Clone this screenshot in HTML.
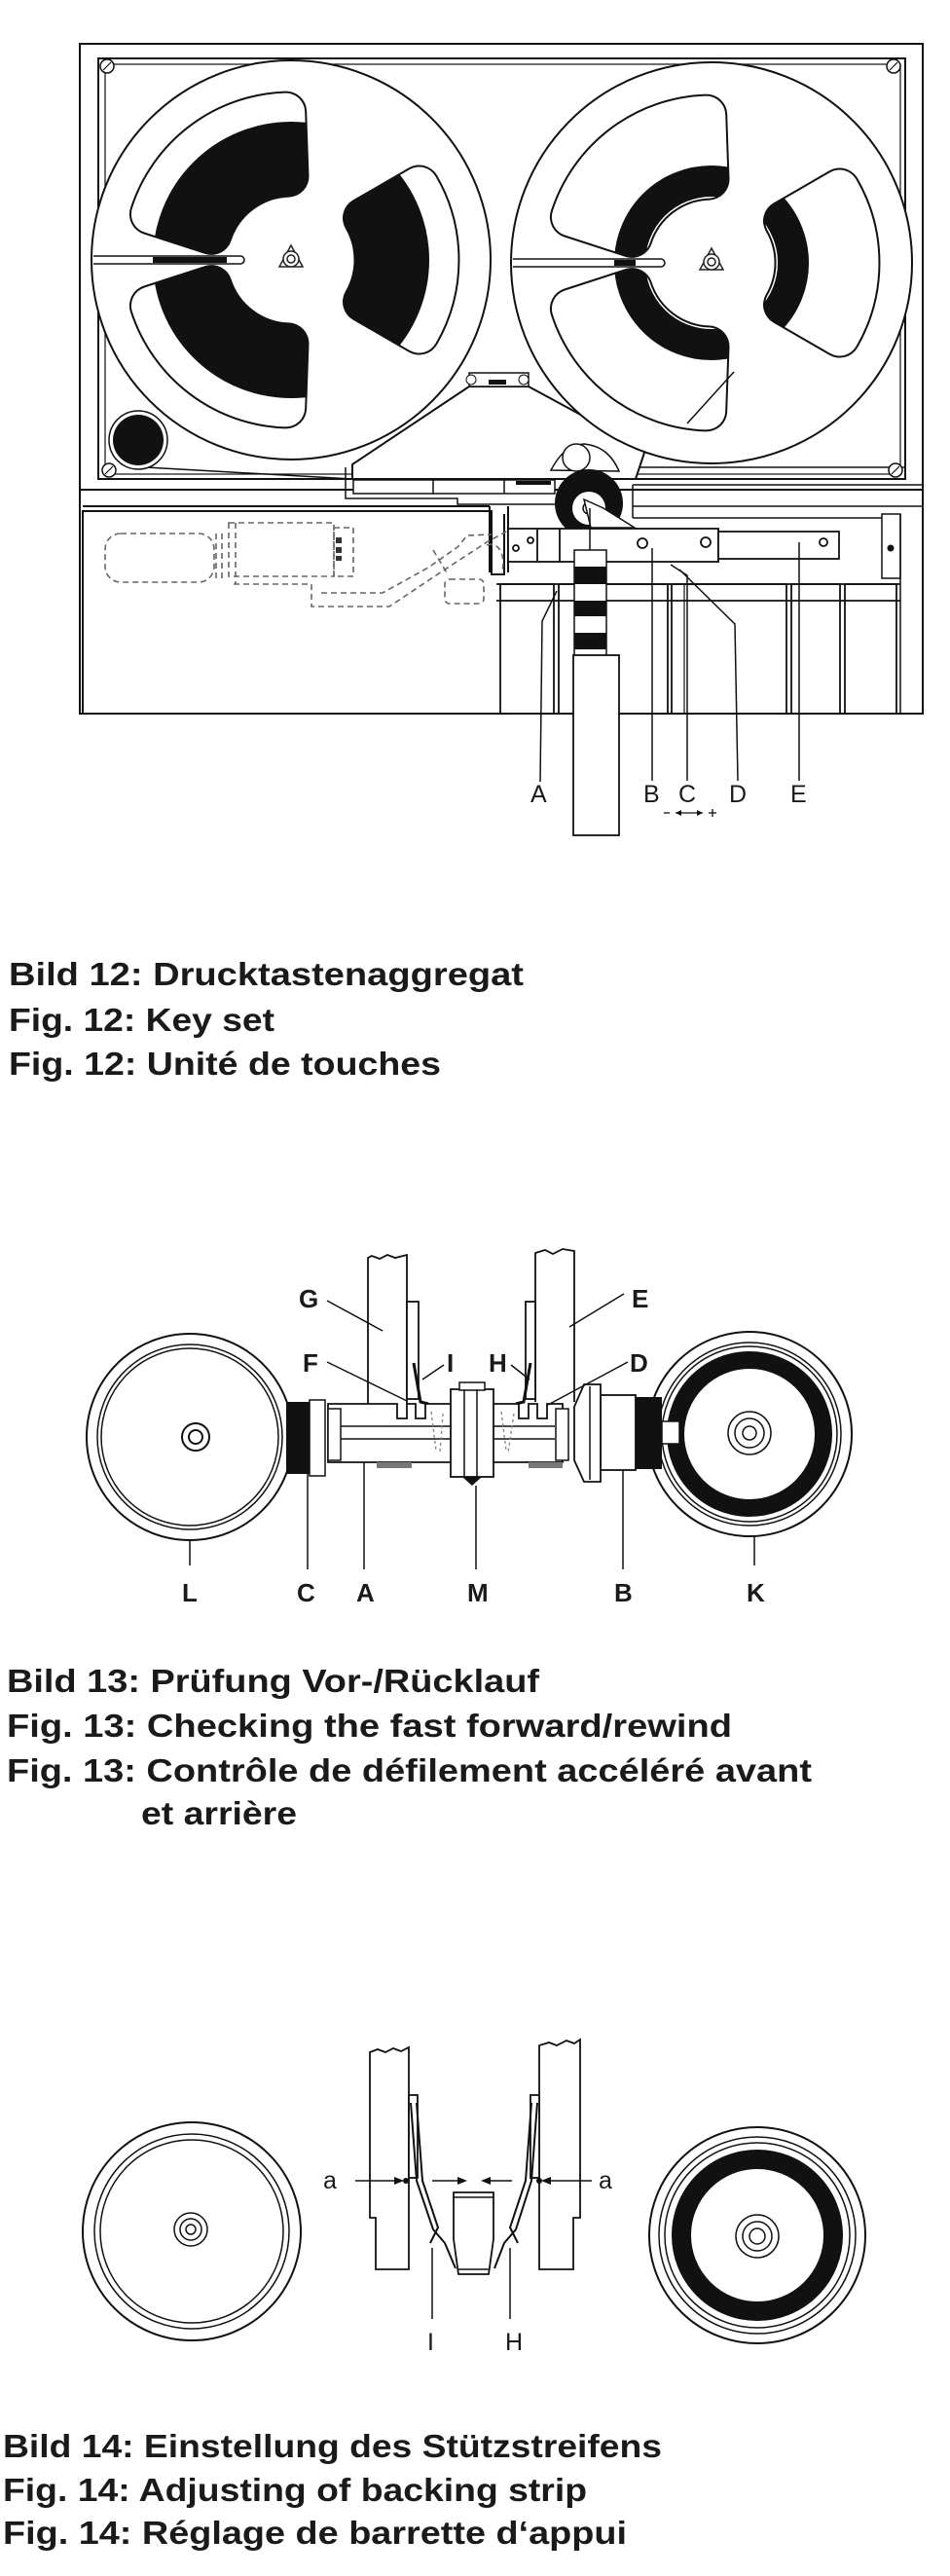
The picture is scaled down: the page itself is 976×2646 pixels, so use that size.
<!DOCTYPE html>
<html><head><meta charset="utf-8"><style>
html,body{margin:0;padding:0;background:#fff;}
svg{display:block;}
.cap{font-family:"Liberation Sans",Arial,sans-serif;font-weight:bold;font-size:33px;fill:#1a1a1a;}
.lb{font-family:"Liberation Sans",Arial,sans-serif;font-size:25px;fill:#1a1a1a;}
.lbb{font-family:"Liberation Sans",Arial,sans-serif;font-size:26px;font-weight:bold;fill:#1a1a1a;}
</style></head><body>
<svg width="976" height="2646" viewBox="0 0 976 2646" xmlns="http://www.w3.org/2000/svg">
<defs>
  <g id="core">
    <path d="M-5.3,-151.9 A152,152 0 0 0 -144.6,-47 L-81.8,-26.6 A86,86 0 0 1 -3,-85.9 Z"/>
    <path d="M131.6,76 A152,152 0 0 0 131.6,-76 L74.5,-43 A86,86 0 0 1 74.5,43 Z"/>
    <path d="M-144.6,47 A152,152 0 0 0 -5.3,151.9 L-3,85.9 A86,86 0 0 1 -81.8,26.6 Z"/>
  </g>
  <mask id="winmask" maskUnits="userSpaceOnUse" x="-220" y="-220" width="440" height="440">
    <rect x="-220" y="-220" width="440" height="440" fill="#000"/>
    <use href="#core" fill="#fff" stroke="#fff" stroke-width="40" stroke-linejoin="round"/>
  </mask>
  <g id="winout">
    <use href="#core" fill="#111" stroke="#111" stroke-width="43" stroke-linejoin="round"/>
    <use href="#core" fill="#fff" stroke="#fff" stroke-width="39" stroke-linejoin="round"/>
  </g>
  <g id="hub" fill="none" stroke="#222" stroke-width="1.5">
    <path d="M0,-14 L12,8 L-12,8 Z"/>
    <circle r="8" fill="#fff"/><circle r="4"/>
  </g>
</defs>
<rect width="976" height="2646" fill="#fff"/>

<!-- ================= FIG 12 ================= -->
<g stroke="#111" fill="none" stroke-width="2">
  <rect x="82" y="45" width="866" height="688"/>
  <rect x="101" y="60" width="829" height="432"/>
  <rect x="108" y="66" width="817" height="421" stroke-width="1.2"/>
  <line x1="82" y1="503" x2="948" y2="503"/>
  <path d="M85,733 L85,525 L505,525 L505,590 L518,590 L518,528"/>
  <line x1="85" y1="520" x2="503" y2="520"/>
  <path d="M503,520 L503,588 M522,520 L522,588"/>
  <line x1="650" y1="480" x2="930" y2="480" stroke-width="1.5"/>
  <line x1="650" y1="498" x2="948" y2="498" stroke-width="1.5"/>
  <line x1="650" y1="520" x2="948" y2="520" stroke-width="1.5"/>
  <line x1="650" y1="532" x2="906" y2="532" stroke-width="1.5"/>
  <line x1="650" y1="498" x2="650" y2="532" stroke-width="1.5"/>
  <rect x="906" y="528" width="19" height="66" stroke-width="1.5"/>
  <line x1="925" y1="528" x2="925" y2="733" stroke-width="1.5"/>
</g>
<circle cx="915" cy="563" r="3.5" fill="#111"/>
<g fill="#fff" stroke="#111" stroke-width="1.5">
  <circle cx="110" cy="68" r="7"/><circle cx="918" cy="68" r="7"/>
  <circle cx="112" cy="483" r="7"/><circle cx="920" cy="483" r="7"/>
</g>
<g stroke="#111" stroke-width="1.2">
  <line x1="106" y1="72" x2="114" y2="64"/><line x1="914" y1="72" x2="922" y2="64"/>
  <line x1="108" y1="487" x2="116" y2="479"/><line x1="916" y1="487" x2="924" y2="479"/>
</g>
<path d="M128,430 L150,480 L362,492" fill="none" stroke="#111" stroke-width="1.5"/>
<circle cx="142" cy="452" r="30" fill="#fff" stroke="#111" stroke-width="1.5"/>
<circle cx="142" cy="452" r="26" fill="#111"/>

<!-- bridge -->
<path d="M362,492 L362,477 L482,397 L543,397 L663,462 L653,492 Z" fill="#fff" stroke="#111" stroke-width="2"/>
<rect x="482" y="383" width="61" height="14" fill="#fff" stroke="#111" stroke-width="1.5"/>
<rect x="502" y="390" width="18" height="5" fill="#111"/>
<circle cx="484" cy="390" r="5" fill="#fff" stroke="#111"/><circle cx="538" cy="390" r="5" fill="#fff" stroke="#111"/>

<!-- reels -->
<g transform="translate(299,267)">
  <circle r="205" fill="#fff" stroke="#111" stroke-width="2"/>
  <use href="#winout"/>
  <g mask="url(#winmask)"><circle r="104" fill="none" stroke="#111" stroke-width="76"/></g>
  <path d="M-203,-4 L-52,-4 A4,4 0 0 1 -52,4 L-203,4" fill="#fff" stroke="#111" stroke-width="1.5"/>
  <rect x="-142" y="-3" width="76" height="6" fill="#111"/>
  <use href="#hub" transform="translate(0,-1)"/>
</g>
<g transform="translate(731,270)">
  <circle r="206" fill="#fff" stroke="#111" stroke-width="2"/>
  <use href="#winout"/>
  <g mask="url(#winmask)"><circle r="84" fill="none" stroke="#111" stroke-width="32"/></g>
  <path d="M-204,-4 L-52,-4 A4,4 0 0 1 -52,4 L-204,4" fill="#fff" stroke="#111" stroke-width="1.5"/>
  <rect x="-100" y="-3" width="22" height="6" fill="#111"/>
  <line x1="-25" y1="165" x2="23" y2="112" stroke="#111" stroke-width="1.5"/>
  <use href="#hub" transform="translate(0,-1)"/>
</g>

<g stroke="#111" fill="none" stroke-width="1.5">
  <path d="M355,480 L355,512 L470,512 L470,518 L570,518"/>
  <rect x="363" y="493" width="207" height="14" fill="#fff"/>
  <line x1="445" y1="493" x2="445" y2="507"/><line x1="518" y1="493" x2="518" y2="507"/>
</g>
<rect x="530" y="494" width="36" height="4" fill="#111"/>
<path d="M566,483 C572,472 580,458 600,456 C620,458 630,470 636,484 Z" fill="#fff" stroke="#111" stroke-width="1.5"/>
<circle cx="592" cy="470" r="14" fill="#fff" stroke="#111" stroke-width="1.5"/>
<circle cx="605" cy="517" r="35" fill="#111"/>
<circle cx="605" cy="522" r="17" fill="#fff"/>
<circle cx="605" cy="522" r="6" fill="#fff" stroke="#111" stroke-width="1.5"/>
<path d="M600,513 L620,522 L652,542 L607,542 Z" fill="#fff" stroke="#111" stroke-width="1.5"/>
<g stroke="#111" stroke-width="1.8" fill="#fff">
  <rect x="522" y="543" width="216" height="34"/>
  <rect x="738" y="546" width="124" height="28"/>
  <line x1="552" y1="543" x2="552" y2="577"/><line x1="575" y1="543" x2="575" y2="577"/>
  <circle cx="660" cy="558" r="5"/><circle cx="725" cy="557" r="5"/>
  <circle cx="846" cy="557" r="4"/><circle cx="530" cy="563" r="3"/><circle cx="545" cy="555" r="3"/>
</g>
<g stroke="#111" stroke-width="1.8" fill="none">
  <line x1="510" y1="600" x2="925" y2="600"/>
  <line x1="510" y1="617" x2="925" y2="617"/>
  <rect x="514" y="600" width="55" height="133"/>
  <rect x="574" y="600" width="112" height="133"/>
  <rect x="690" y="600" width="118" height="133"/>
  <rect x="813" y="600" width="50" height="133"/>
  <rect x="868" y="600" width="53" height="133"/>
  <line x1="703" y1="600" x2="703" y2="733" stroke-width="1.2"/>
</g>
<line x1="606" y1="522" x2="606" y2="565" stroke="#111" stroke-width="1.5"/>
<rect x="590" y="565" width="33" height="110" fill="#fff" stroke="#111" stroke-width="1.5"/>
<rect x="590" y="582" width="33" height="18" fill="#111"/>
<rect x="590" y="617" width="33" height="16" fill="#111"/>
<rect x="590" y="650" width="33" height="17" fill="#111"/>
<rect x="589" y="673" width="47" height="185" fill="#fff" stroke="#111" stroke-width="1.8"/>
<g fill="none" stroke="#666" stroke-width="1.6" stroke-dasharray="6,4">
  <rect x="108" y="548" width="112" height="50" rx="16"/>
  <rect x="235" y="537" width="108" height="55"/>
  <line x1="222" y1="548" x2="222" y2="598"/><line x1="228" y1="548" x2="228" y2="598"/><line x1="242" y1="537" x2="242" y2="600"/>
  <rect x="343" y="542" width="20" height="50"/>
  <path d="M240,600 L320,600 L320,623 L400,623 L457,585 L500,557 L522,545"/>
  <path d="M330,609 L393,609 L440,583 L470,562 L480,550 L505,549"/>
  <rect x="457" y="595" width="40" height="25" rx="5"/>
  <path d="M445,565 L460,590 M500,560 C515,555 520,575 515,590"/>
</g>
<rect x="345" y="552" width="6" height="6" fill="#333"/><rect x="345" y="562" width="6" height="6" fill="#333"/><rect x="345" y="571" width="6" height="5" fill="#333"/>
<g stroke="#111" stroke-width="1.5" fill="none">
  <path d="M555,803 L557,638 L572,607"/>
  <path d="M670,802 L670,563"/>
  <path d="M706,802 L706,591 L689,580"/>
  <path d="M758,802 L755,641 L698,585"/>
  <path d="M821,802 L821,557"/>
</g>
<g class="lb">
  <text x="545" y="824">A</text><text x="661" y="824">B</text><text x="697" y="824">C</text><text x="749" y="824">D</text><text x="812" y="824">E</text>
</g>
<g stroke="#111" stroke-width="1.3">
  <line x1="682" y1="835" x2="688" y2="835"/><line x1="694" y1="835" x2="722" y2="835"/>
  <line x1="728" y1="835" x2="736" y2="835"/><line x1="732" y1="831" x2="732" y2="839"/>
</g>
<path d="M694,835 l6,-3 v6 z M722,835 l-6,-3 v6 z" fill="#111"/>

<text class="cap" x="9" y="1012" textLength="529" lengthAdjust="spacingAndGlyphs">Bild 12: Drucktastenaggregat</text>
<text class="cap" x="9" y="1059" textLength="273" lengthAdjust="spacingAndGlyphs">Fig. 12: Key set</text>
<text class="cap" x="9" y="1104" textLength="444" lengthAdjust="spacingAndGlyphs">Fig. 12: Unité de touches</text>

<!-- ================= FIG 13 ================= -->
<g stroke="#111" fill="#fff" stroke-width="2">
  <circle cx="195" cy="1476" r="106"/>
  <circle cx="195" cy="1476" r="95" stroke-width="1.5"/>
  <circle cx="195" cy="1476" r="91" stroke-width="1.5"/>
  <circle cx="201" cy="1476" r="14"/><circle cx="201" cy="1476" r="7"/>
  <circle cx="770" cy="1473" r="105"/>
  <circle cx="770" cy="1473" r="94" stroke-width="1.5"/>
  <circle cx="770" cy="1473" r="90" stroke-width="1.5"/>
</g>
<circle cx="770" cy="1473" r="76" fill="none" stroke="#111" stroke-width="18"/>
<g fill="none" stroke="#111" stroke-width="1.5">
  <circle cx="770" cy="1472" r="22"/><circle cx="770" cy="1472" r="15"/><circle cx="770" cy="1472" r="7"/>
</g>
<rect x="294" y="1440" width="24" height="74" fill="#111"/>
<rect x="318" y="1438" width="16" height="78" fill="#fff" stroke="#111" stroke-width="1.5"/>
<rect x="652" y="1435" width="28" height="74" fill="#111"/>
<rect x="680" y="1460" width="18" height="23" fill="#fff" stroke="#111" stroke-width="1.5"/>
<rect x="617" y="1433" width="36" height="77" fill="#fff" stroke="#111" stroke-width="1.8"/>
<path d="M600,1422 L617,1422 L617,1522 L600,1522 L590,1500 L590,1445 Z" fill="#fff" stroke="#111" stroke-width="1.8"/>
<line x1="606" y1="1424" x2="606" y2="1520" stroke="#111" stroke-width="1.5"/>
<g fill="#fff" stroke="#111" stroke-width="1.8">
  <path d="M378,1442 L378,1292 L382,1290 L390,1293 L398,1289 L406,1292 L418,1289 L418,1442"/>
  <path d="M550,1440 L550,1287 L560,1284 L568,1288 L578,1283 L590,1285 L590,1440"/>
  <rect x="418" y="1337" width="12" height="100"/>
  <rect x="540" y="1337" width="10" height="100"/>
</g>
<path d="M425,1400 L432,1440 L440,1442 M545,1400 L538,1440 L530,1442" stroke="#111" stroke-width="3" fill="none"/>
<path d="M337,1442 L408,1442 L408,1457 L418,1457 L418,1442 L427,1442 L427,1457 L437,1457 L437,1442 L533,1442 L533,1457 L543,1457 L543,1442 L552,1442 L552,1457 L562,1457 L562,1442 L578,1442 L578,1502 L337,1502 Z" fill="#fff" stroke="#111" stroke-width="1.8"/>
<line x1="350" y1="1465" x2="570" y2="1465" stroke="#111" stroke-width="1.5"/>
<line x1="350" y1="1478" x2="570" y2="1478" stroke="#111" stroke-width="1.5"/>
<rect x="337" y="1447" width="13" height="53" fill="#fff" stroke="#111" stroke-width="1.5"/>
<rect x="571" y="1447" width="13" height="53" fill="#fff" stroke="#111" stroke-width="1.5"/>
<rect x="387" y="1502" width="36" height="6" fill="#777"/>
<rect x="543" y="1502" width="35" height="6" fill="#777"/>
<rect x="463" y="1427" width="44" height="90" fill="#fff" stroke="#111" stroke-width="1.8"/>
<rect x="472" y="1420" width="26" height="8" fill="#fff" stroke="#111" stroke-width="1.5"/>
<line x1="477" y1="1427" x2="477" y2="1517" stroke="#111" stroke-width="1.5"/>
<line x1="490" y1="1427" x2="490" y2="1517" stroke="#111" stroke-width="1.5"/>
<path d="M475,1517 L495,1517 L485,1526 Z" fill="#111"/>
<g stroke="#888" stroke-width="1.4" stroke-dasharray="3,3" fill="none">
  <path d="M443,1450 L448,1490 M455,1452 L452,1492 M515,1450 L520,1490 M528,1452 L522,1492"/>
</g>
<g stroke="#111" stroke-width="1.5" fill="none">
  <line x1="336" y1="1336" x2="393" y2="1367"/>
  <line x1="641" y1="1329" x2="585" y2="1363"/>
  <line x1="336" y1="1399" x2="418" y2="1439"/>
  <line x1="456" y1="1402" x2="434" y2="1417"/>
  <line x1="525" y1="1402" x2="544" y2="1417"/>
  <line x1="645" y1="1399" x2="563" y2="1443"/>
  <line x1="195" y1="1582" x2="195" y2="1608"/>
  <line x1="316" y1="1514" x2="316" y2="1612"/>
  <line x1="374" y1="1502" x2="374" y2="1612"/>
  <line x1="489" y1="1526" x2="489" y2="1612"/>
  <line x1="640" y1="1510" x2="640" y2="1612"/>
  <line x1="775" y1="1578" x2="775" y2="1608"/>
</g>
<g class="lbb">
  <text x="307" y="1343">G</text><text x="649" y="1343">E</text>
  <text x="311" y="1409">F</text><text x="459" y="1409">I</text><text x="502" y="1409">H</text><text x="647" y="1409">D</text>
  <text x="187" y="1645">L</text><text x="305" y="1645">C</text><text x="366" y="1645">A</text>
  <text x="480" y="1645">M</text><text x="631" y="1645">B</text><text x="767" y="1645">K</text>
</g>

<text class="cap" x="7" y="1738" textLength="547" lengthAdjust="spacingAndGlyphs">Bild 13: Prüfung Vor-/Rücklauf</text>
<text class="cap" x="7" y="1784" textLength="745" lengthAdjust="spacingAndGlyphs">Fig. 13: Checking the fast forward/rewind</text>
<text class="cap" x="7" y="1830" textLength="827" lengthAdjust="spacingAndGlyphs">Fig. 13: Contrôle de défilement accéléré avant</text>
<text class="cap" x="145" y="1874" textLength="160" lengthAdjust="spacingAndGlyphs">et arrière</text>

<!-- ================= FIG 14 ================= -->
<g stroke="#111" fill="none" stroke-width="2">
  <circle cx="197" cy="2292" r="112"/>
  <circle cx="197" cy="2292" r="100" stroke-width="1.5"/>
  <circle cx="197" cy="2292" r="94" stroke-width="1.5"/>
  <circle cx="778" cy="2296" r="111"/>
  <circle cx="778" cy="2296" r="101" stroke-width="1.5"/>
  <circle cx="778" cy="2296" r="95" stroke-width="1.5"/>
</g>
<circle cx="778" cy="2296" r="78" fill="none" stroke="#111" stroke-width="20"/>
<g stroke="#111" fill="none" stroke-width="1.5">
  <circle cx="196" cy="2290" r="17"/><circle cx="196" cy="2290" r="11"/><circle cx="196" cy="2290" r="5"/>
  <circle cx="778" cy="2297" r="22"/><circle cx="778" cy="2297" r="15"/><circle cx="778" cy="2297" r="8"/>
</g>
<g fill="#fff" stroke="#111" stroke-width="1.8">
  <path d="M380,2278 L380,2108 L388,2105 L396,2108 L404,2104 L412,2107 L420,2103 L420,2331 L386,2331 L386,2278 Z"/>
  <path d="M554,2331 L554,2101 L564,2098 L572,2101 L582,2096 L590,2099 L596,2095 L596,2278 L589,2278 L589,2331 Z"/>
  <rect x="420" y="2152" width="9" height="85"/>
  <rect x="545" y="2152" width="9" height="85"/>
</g>
<g stroke="#111" stroke-width="2" fill="none">
  <path d="M422,2160 L428,2240 L445,2290 L457,2304 L468,2330"/>
  <path d="M428,2160 L434,2240 L450,2288 L442,2304"/>
  <path d="M552,2160 L546,2240 L530,2290 L518,2304 L508,2330"/>
  <path d="M546,2160 L540,2240 L524,2288 L532,2304"/>
</g>
<path d="M466,2252 L507,2252 L507,2300 L502,2336 L471,2336 L466,2300 Z" fill="#fff" stroke="#111" stroke-width="1.8"/>
<line x1="466" y1="2257" x2="507" y2="2257" stroke="#111" stroke-width="1.5"/>
<line x1="471" y1="2331" x2="502" y2="2331" stroke="#111" stroke-width="1.5"/>
<g stroke="#111" stroke-width="1.5">
  <line x1="365" y1="2240" x2="405" y2="2240"/>
  <line x1="444" y1="2240" x2="470" y2="2240"/>
  <line x1="504" y1="2240" x2="526" y2="2240"/>
  <line x1="564" y1="2240" x2="608" y2="2240"/>
</g>
<g fill="#111">
  <path d="M415,2240 l-10,-4 v8 z"/><circle cx="417" cy="2240" r="3"/>
  <path d="M480,2240 l-10,-4 v8 z"/>
  <path d="M494,2240 l10,-4 v8 z"/>
  <path d="M556,2240 l10,-4 v8 z"/><circle cx="554" cy="2240" r="3"/>
</g>
<g stroke="#111" stroke-width="1.5">
  <line x1="444" y1="2309" x2="444" y2="2382"/>
  <line x1="524" y1="2309" x2="524" y2="2382"/>
</g>
<g class="lb">
  <text x="332" y="2248">a</text><text x="615" y="2248">a</text>
  <text x="439" y="2414">I</text><text x="519" y="2414">H</text>
</g>

<text class="cap" x="3" y="2524" textLength="677" lengthAdjust="spacingAndGlyphs">Bild 14: Einstellung des Stützstreifens</text>
<text class="cap" x="3" y="2569" textLength="600" lengthAdjust="spacingAndGlyphs">Fig. 14: Adjusting of backing strip</text>
<text class="cap" x="3" y="2613" textLength="641" lengthAdjust="spacingAndGlyphs">Fig. 14: Réglage de barrette d‘appui</text>
</svg>
</body></html>
